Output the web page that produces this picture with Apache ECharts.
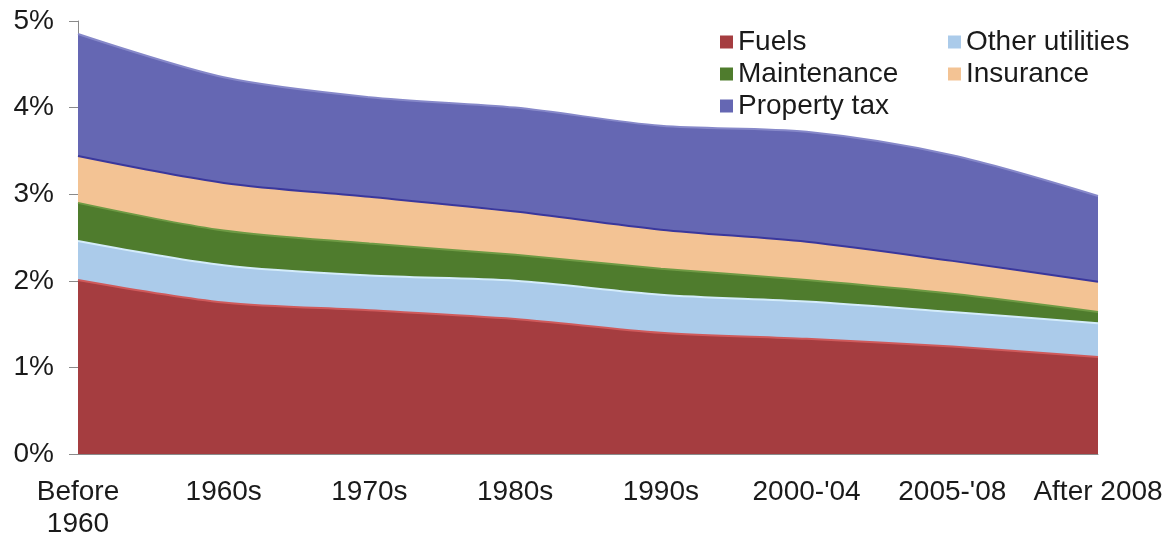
<!DOCTYPE html>
<html>
<head>
<meta charset="utf-8">
<script src="https://cdn.jsdelivr.net/npm/echarts@6/dist/echarts.min.js"></script>
<style>
html,body{margin:0;padding:0;background:#fff;}
#chart{width:1171px;height:540px;}
</style>
</head>
<body>
<div id="chart"></div>
<script>
var categories = ['Before\n1960', '1960s', '1970s', '1980s', '1990s', "2000-'04", "2005-'08", 'After 2008'];
var fuels = [2.01, 1.75, 1.66, 1.56, 1.40, 1.33, 1.24, 1.12];
var otherUtilities = [0.45, 0.43, 0.40, 0.44, 0.44, 0.43, 0.40, 0.39];
var maintenance = [0.44, 0.40, 0.37, 0.30, 0.30, 0.25, 0.21, 0.13];
var insurance = [0.54, 0.55, 0.54, 0.50, 0.45, 0.44, 0.38, 0.35];
var propertyTax = [1.41, 1.22, 1.15, 1.20, 1.20, 1.27, 1.22, 0.99];
var yTicks = [0, 1, 2, 3, 4, 5];

var FONT = '"Liberation Sans", Arial, sans-serif';
var chart = echarts.init(document.getElementById('chart'));

function areaSeries(name, data, fill, line) {
  return {
    name: name,
    type: 'line',
    stack: 'total',
    data: data,
    symbol: 'none',
    smooth: 0.3,
    itemStyle: { color: fill },
    lineStyle: { color: line, width: 2 },
    areaStyle: { color: fill, opacity: 1 },
    emphasis: { disabled: true }
  };
}

var legendText = { fontFamily: FONT, fontSize: 28, color: '#1a1a1a', lineHeight: 30 };

chart.setOption({
  animation: false,
  backgroundColor: '#ffffff',
  grid: { left: 78, right: 73, top: 21, bottom: 82, containLabel: false },
  legend: [
    {
      orient: 'vertical', left: 715, top: 22, itemGap: 2,
      itemWidth: 13, itemHeight: 13, icon: 'rect',
      textStyle: legendText,
      data: ['Fuels', 'Maintenance', 'Property tax']
    },
    {
      orient: 'vertical', left: 943, top: 22, itemGap: 2,
      itemWidth: 13, itemHeight: 13, icon: 'rect',
      textStyle: legendText,
      data: ['Other utilities', 'Insurance']
    }
  ],
  xAxis: {
    type: 'category',
    data: categories,
    boundaryGap: false,
    axisLine: { show: true, lineStyle: { color: '#8a8a8a', width: 1 } },
    axisTick: { show: false },
    axisLabel: {
      fontFamily: FONT, fontSize: 28, color: '#1a1a1a',
      margin: 22, lineHeight: 32, interval: 0
    },
    splitLine: { show: false }
  },
  yAxis: {
    type: 'value',
    min: yTicks[0],
    max: yTicks[yTicks.length - 1],
    interval: 1,
    axisLine: { show: true, lineStyle: { color: '#8a8a8a', width: 1 } },
    axisTick: { show: true, length: 9, lineStyle: { color: '#8a8a8a' } },
    axisLabel: {
      fontFamily: FONT, fontSize: 28, color: '#1a1a1a', margin: 24,
      formatter: '{value}%'
    },
    splitLine: { show: false }
  },
  series: [
    areaSeries('Fuels', fuels, '#a53d40', '#cf5a5b'),
    areaSeries('Other utilities', otherUtilities, '#abcbea', '#d4ecfa'),
    areaSeries('Maintenance', maintenance, '#4f7c2d', '#6e9a44'),
    areaSeries('Insurance', insurance, '#f3c394', '#3a379c'),
    areaSeries('Property tax', propertyTax, '#6567b3', '#8688c9')
  ]
});
</script>
</body>
</html>
